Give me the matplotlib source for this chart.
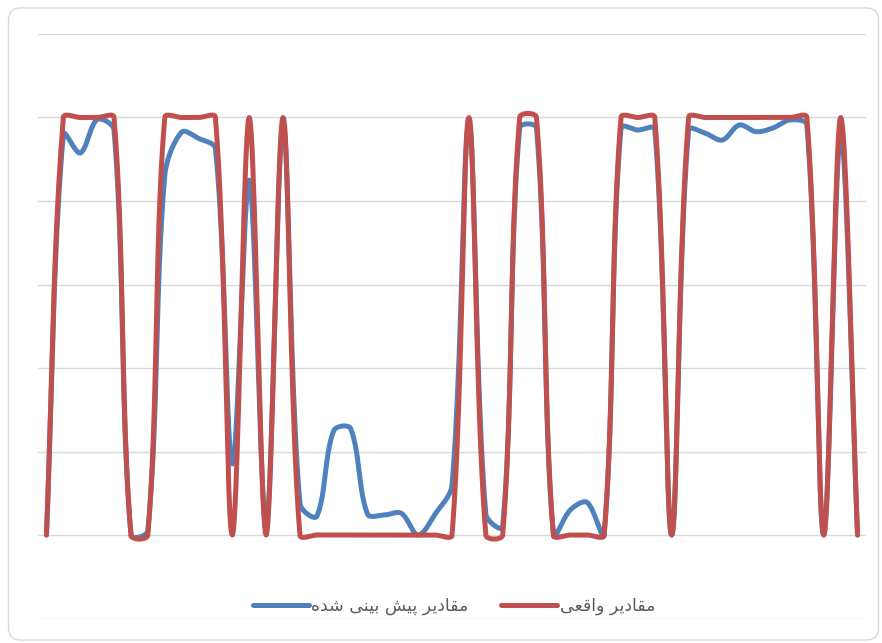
import numpy as np
import matplotlib
matplotlib.use("Agg")
import matplotlib.pyplot as plt
from matplotlib.patches import FancyBboxPatch

# Data (49 samples)
actual = [0, 1, 1, 1, 1, 0, 0, 1, 1, 1, 1, 0, 1, 0, 1, 0,
          0, 0, 0, 0, 0, 0, 0, 0, 0, 1, 0, 0, 1, 1, 0, 0,
          0, 0, 1, 1, 1, 0, 1, 1, 1, 1, 1, 1, 1, 1, 0, 1, 0]
predicted = [0.0, 0.96, 0.915, 0.995, 0.97, 0.0, 0.01, 0.86, 0.965, 0.95,
             0.925, 0.17, 0.85, 0.02, 0.98, 0.075, 0.045, 0.25, 0.255, 0.05,
             0.048, 0.052, 0.0, 0.05, 0.12, 0.985, 0.05, 0.02, 0.975, 0.975,
             0.0, 0.06, 0.078, 0.0, 0.975, 0.97, 0.972, 0.0, 0.97, 0.962,
             0.946, 0.982, 0.966, 0.975, 0.994, 0.982, 0.0, 0.96, 0.0]
label_pred = "مقادیر پیش بینی شده"
label_act = "مقادیر واقعی"

# Arabic letter forms: isolated, final, initial, medial
FORMS = {
    'م': ('\uFEE1', '\uFEE2', '\uFEE3', '\uFEE4'),
    'ق': ('\uFED5', '\uFED6', '\uFED7', '\uFED8'),
    'ا': ('\uFE8D', '\uFE8E', None, None),
    'د': ('\uFEA9', '\uFEAA', None, None),
    'ی': ('\uFBFC', '\uFBFD', '\uFBFE', '\uFBFF'),
    'ر': ('\uFEAD', '\uFEAE', None, None),
    'پ': ('\uFB56', '\uFB57', '\uFB58', '\uFB59'),
    'ش': ('\uFEB5', '\uFEB6', '\uFEB7', '\uFEB8'),
    'ب': ('\uFE8F', '\uFE90', '\uFE91', '\uFE92'),
    'ن': ('\uFEE5', '\uFEE6', '\uFEE7', '\uFEE8'),
    'ه': ('\uFEE9', '\uFEEA', '\uFEEB', '\uFEEC'),
    'و': ('\uFEED', '\uFEEE', None, None),
    'ع': ('\uFEC9', '\uFECA', '\uFECB', '\uFECC'),
}


def shape(text):
    '''Join the letters and flip to visual order'''
    out = []
    for i, ch in enumerate(text):
        if ch not in FORMS:
            out.append(ch)
            continue
        prev = text[i - 1] if i > 0 else ' '
        nxt = text[i + 1] if i + 1 < len(text) else ' '
        join_prev = prev in FORMS and FORMS[prev][2] is not None
        join_next = nxt in FORMS and FORMS[ch][2] is not None
        iso, fin, ini, med = FORMS[ch]
        if join_prev and join_next:
            out.append(med)
        elif join_prev:
            out.append(fin)
        elif join_next:
            out.append(ini)
        else:
            out.append(iso)
    return ''.join(out)[::-1]


def smooth(y, sx, sy, steps=24):
    '''Excel-like smoothed line: Bezier with chord-length weighted tangents,
    worked out in screen units (sx, sy = pixels per data unit)'''
    y = np.asarray(y, dtype=float)
    x = np.arange(len(y), dtype=float)
    P = np.column_stack([x * sx, y * sy])
    P = np.vstack([P[0], P, P[-1]])
    t = np.linspace(0, 1, steps, endpoint=False)[:, None]
    pts = []
    for i in range(len(y) - 1):
        p0, p1, p2, p3 = P[i], P[i + 1], P[i + 2], P[i + 3]
        d01 = np.hypot(*(p1 - p0))
        d12 = np.hypot(*(p2 - p1))
        d23 = np.hypot(*(p3 - p2))
        c1 = p1 + (p2 - p0) * d12 / (3 * (d01 + d12))
        c2 = p2 - (p3 - p1) * d12 / (3 * (d12 + d23))
        seg = ((1 - t) ** 3 * p1 + 3 * (1 - t) ** 2 * t * c1
               + 3 * (1 - t) * t ** 2 * c2 + t ** 3 * p2)
        pts.append(seg)
    pts.append(P[-1][None, :])
    pts = np.vstack(pts)
    return pts[:, 0] / sx, pts[:, 1] / sy


plt.rcParams['font.family'] = ['DejaVu Sans']

fig = plt.figure(figsize=(8.82, 6.43), dpi=100)
ax = fig.add_axes([38 / 882, 1 - 618.5 / 643, 828 / 882, 584.5 / 643])

# Rounded chart border
border = FancyBboxPatch((0.085, 0.03), 8.70, 6.32,
                        boxstyle="round,pad=0,rounding_size=0.12",
                        transform=fig.dpi_scale_trans, fill=False,
                        edgecolor='#d9d9d9', linewidth=1.0)
fig.patches.append(border)

px_x = 828 / len(actual)
px_y = 584.5 / 1.4
bx, by = smooth(predicted, px_x, px_y)
rx, ry = smooth(actual, px_x, px_y)
ax.plot(bx, by, color='#4f81bd', linewidth=3.6, solid_capstyle='round',
        solid_joinstyle='round', label=shape(label_pred))
ax.plot(rx, ry, color='#c0504d', linewidth=3.6, solid_capstyle='round',
        solid_joinstyle='round', label=shape(label_act))

ax.set_xlim(-0.5, len(actual) - 0.5)
ax.set_ylim(-0.2, 1.2)
ax.set_yticks(np.arange(-0.2, 1.21, 0.2))
ax.set_xticks([])
ax.tick_params(left=False, labelleft=False)
ax.grid(axis='y', color='#d9d9d9', linewidth=1.0)
ax.set_axisbelow(True)
for s in ax.spines.values():
    s.set_visible(False)

fig.legend(loc='center', bbox_to_anchor=(454 / 882, 1 - 606 / 643),
           ncol=2, frameon=False, fontsize=12.5, handlelength=3.2,
           handletextpad=0.15, columnspacing=1.9, labelcolor='#595959')

fig.savefig('out.png', dpi=100)
